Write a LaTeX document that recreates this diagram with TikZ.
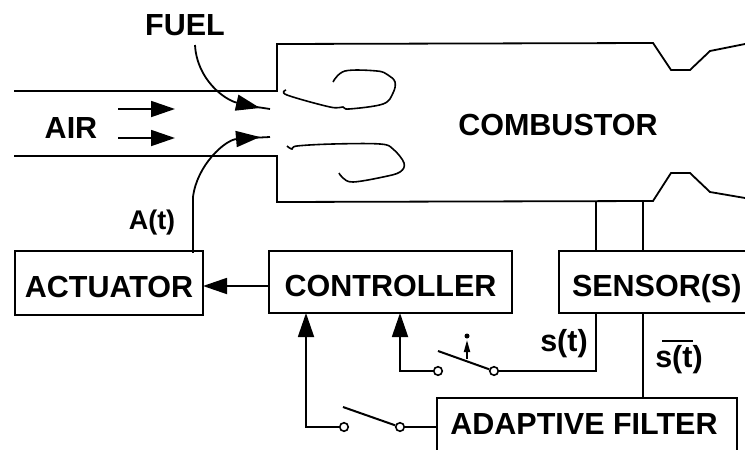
\documentclass[tikz,border=0pt]{standalone}
\usepackage{fontspec}
\setmainfont{Liberation Sans}
\usetikzlibrary{arrows.meta}
\tikzset{
  label/.style={font=\fontsize{30.5}{36}\selectfont\bfseries,inner sep=0pt},
  block/.style={draw,line width=1.8pt,inner sep=0pt,text height=28pt,text depth=0pt,font=\fontsize{30.5}{36}\selectfont\bfseries},
  wire/.style={line width=1.8pt},
  bigtip/.style={-{Triangle[length=24pt,width=16pt]}},
  term/.style={circle,draw,fill=white,line width=1.6pt,minimum size=8.5pt,inner sep=0pt},
  lever/.style={line width=2pt}
}
\begin{document}
\begin{tikzpicture}[x=1pt,y=-1pt]
   \useasboundingbox (0,0) rectangle (745,450);
   \clip (0,0) rectangle (745,450);
   % duct and combustor
   \draw[wire] (14,91) -- (277,91) -- (277,44) -- (653,43) -- (671,70) -- (690,70) -- (710,51) -- (745,44);
   \draw[wire] (14,156) -- (277,156) -- (277,202) -- (653,201) -- (671,173) -- (690,173) -- (710,192) -- (745,198);
   % flame curls
   \draw[line width=1.6pt] plot[smooth,tension=0.6] coordinates {(286,90) (287,95) (330,107) (343,107) (349,109) (383,104) (393,93) (395,82) (388,75) (377,71) (345,71) (333,82)};
   \draw[line width=1.6pt] plot[smooth,tension=0.6] coordinates {(287,146) (292,149) (297,146) (333,144) (380,144) (393,149) (404,163) (400,172) (383,177) (353,182) (343,178) (339,173)};
   % blocks
   \node[block,minimum width=188pt,minimum height=64pt] (actuator) at (109,283) {ACTUATOR};
   \node[block,minimum width=243pt,minimum height=62pt] (controller) at (390.5,282) {CONTROLLER};
   \node[block,minimum width=240pt,minimum height=62pt,text width=240pt,align=left] (sensor) at (679,282) {\hspace{13pt}SENSOR(S)};
   \node[block,minimum width=300pt,minimum height=64pt] (filter) at (587,430) {};
   \node[label] (filtertext) at (584,424) {ADAPTIVE FILTER};
   % labels
   \node[label] (fuel) at (185,25) {FUEL};
   \node[label] (air) at (71,128) {AIR};
   \node[label,font=\fontsize{27}{32}\selectfont\bfseries] (at) at (152,223) {A(t)};
   \node[label] (combustor) at (558,125) {COMBUSTOR};
   \node[label] (st) at (564,344) {s(t)};
   \node[label] (stbar) at (679,360) {s(t)};
   % named ends
   \coordinate (barA) at (662,341);
   \coordinate (barB) at (693,341);
   \coordinate (aironeA) at (118,109);
   \coordinate (aironeB) at (175,109);
   \coordinate (airtwoA) at (118,138);
   \coordinate (airtwoB) at (175,138);
   \coordinate (fuelA) at (195,45);
   \coordinate (fuelB) at (260,108);
   \coordinate (fuelS) at (250,106);
   \coordinate (fuelC) at (270,109);
   \coordinate (atA) at (193,253);
   \coordinate (atB) at (193,197);
   \coordinate (atC) at (260,137);
   \coordinate (atS) at (250,138);
   \coordinate (atD) at (270,137);
   \coordinate (sensorL) at (596,251);
   \coordinate (sensorR) at (643,251);
   \coordinate (ductL) at (596,201);
   \coordinate (ductR) at (643,201);
   \coordinate (sensorout) at (596,313);
   \coordinate (sensorfilt) at (643,313);
   \coordinate (filtertop) at (643,398);
   \coordinate (ctrlinA) at (400,313);
   \coordinate (ctrlinB) at (306,313);
   \coordinate (ctrlout) at (269,286);
   \coordinate (actin) at (203,286);
   \coordinate (filterin) at (437,427);
   \coordinate (leverA) at (438,351);
   \coordinate (leverB) at (343,407);
   \coordinate (leverpt) at (467,359);
   \coordinate (leverup) at (467,340);
   % switches
   \node[term] (swoneL) at (438,371) {};
   \node[term] (swoneR) at (494,371) {};
   \node[term] (swtwoL) at (344,427) {};
   \node[term] (swtwoR) at (400,427) {};
   \node[circle,fill,minimum size=5pt,inner sep=0pt] (swdot) at (467,336) {};
   \draw[lever] (leverA) -- (swoneR);
   \draw[lever] (leverB) -- (swtwoR);
   \draw[wire,-{Triangle[length=12pt,width=6pt]}] (leverpt) -- (leverup);
   % connectors
   \draw[line width=2.4pt] (barA) -- (barB);
   \draw[wire,bigtip] (aironeA) -- (aironeB);
   \draw[wire,bigtip] (airtwoA) -- (airtwoB);
   \draw[wire,bigtip] (fuelA) .. controls (197,80) and (225,100) .. (fuelB);
   \draw[wire] (fuelS) -- (fuelC);
   \draw[wire] (atA) -- (atB);
   \draw[wire,bigtip] (atB) .. controls (197,165) and (225,140) .. (atC);
   \draw[wire] (atS) -- (atD);
   \draw[wire,bigtip] (ctrlout) -- (actin);
   \draw[wire] (ductL) -- (sensorL);
   \draw[wire] (ductR) -- (sensorR);
   \draw[wire] (swoneR) -| (sensorout);
   \draw[wire] (sensorfilt) -- (filtertop);
   \draw[wire,bigtip] (swoneL) -| (ctrlinA);
   \draw[wire,bigtip] (swtwoL) -| (ctrlinB);
   \draw[wire] (swtwoR) -- (filterin);
\end{tikzpicture}
\end{document}
